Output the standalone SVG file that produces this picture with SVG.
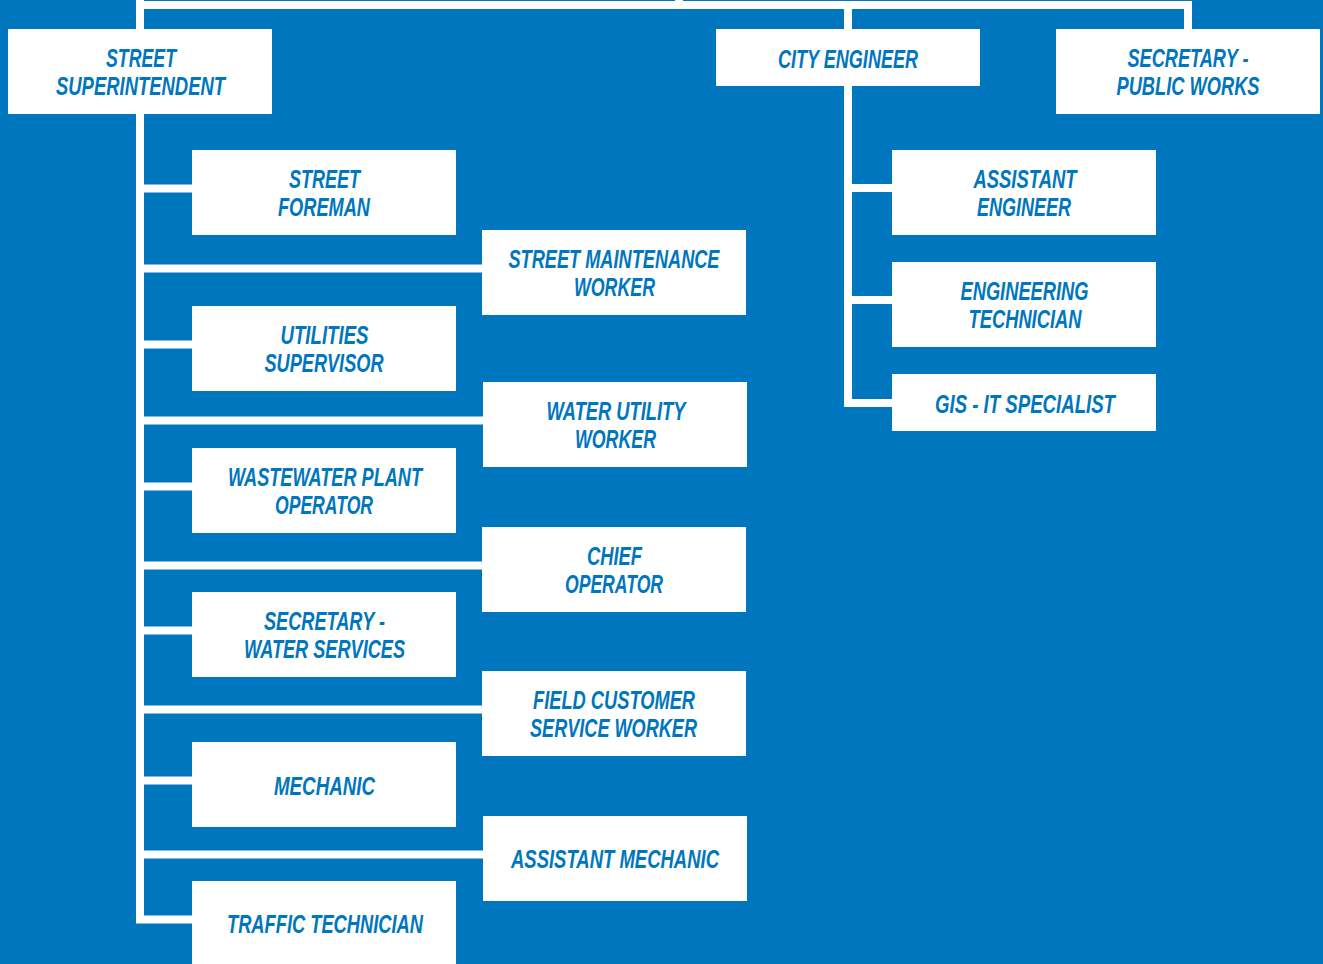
<svg xmlns="http://www.w3.org/2000/svg" width="1323" height="964" viewBox="0 0 1323 964">
<style>
.bg{fill:#0076BE}
.box{fill:#FFFFFF}
.t{font-family:"Liberation Sans Narrow","Liberation Sans",Arial,sans-serif;font-size:26px;font-weight:bold;font-style:italic;fill:#0076BE;text-anchor:middle}
.c{fill:none;stroke:#FFFFFF;stroke-width:8;stroke-linejoin:miter;stroke-linecap:butt}
</style>
<rect class="bg" x="0" y="0" width="1323" height="964"/>
<g id="connectors">
<path class="c" d="M679,-10 V5"/>
<path class="c" d="M140,5 H1188 V29"/>
<path class="c" d="M140,0 V919.5 H192"/>
<path class="c" d="M848,5 V403 H892"/>
<path class="c" d="M140,188.5 H192"/>
<path class="c" d="M140,268.5 H482"/>
<path class="c" d="M140,344.5 H192"/>
<path class="c" d="M140,420.5 H483"/>
<path class="c" d="M140,486.5 H192"/>
<path class="c" d="M140,565.5 H482"/>
<path class="c" d="M140,630.5 H192"/>
<path class="c" d="M140,709.5 H482"/>
<path class="c" d="M140,780.5 H192"/>
<path class="c" d="M140,854.5 H483"/>
<path class="c" d="M848,188 H892"/>
<path class="c" d="M848,300 H892"/>
</g>
<g id="street-superintendent">
<rect class="box" x="8" y="29" width="264" height="85"/>
<text class="t" x="141" y="67" textLength="70" lengthAdjust="spacingAndGlyphs">STREET</text>
<text class="t" x="140.5" y="94.5" textLength="169" lengthAdjust="spacingAndGlyphs">SUPERINTENDENT</text>
</g>
<g id="city-engineer">
<rect class="box" x="716" y="29" width="264" height="57"/>
<text class="t" x="848" y="67.5" textLength="140" lengthAdjust="spacingAndGlyphs">CITY ENGINEER</text>
</g>
<g id="secretary-public-works">
<rect class="box" x="1056" y="29" width="264" height="85"/>
<text class="t" x="1188" y="67" textLength="121" lengthAdjust="spacingAndGlyphs">SECRETARY -</text>
<text class="t" x="1188" y="94.5" textLength="143" lengthAdjust="spacingAndGlyphs">PUBLIC WORKS</text>
</g>
<g id="street-foreman">
<rect class="box" x="192" y="150" width="264" height="85"/>
<text class="t" x="324.5" y="188" textLength="71" lengthAdjust="spacingAndGlyphs">STREET</text>
<text class="t" x="324" y="215.5" textLength="92" lengthAdjust="spacingAndGlyphs">FOREMAN</text>
</g>
<g id="street-maintenance-worker">
<rect class="box" x="482" y="230" width="264" height="85"/>
<text class="t" x="614" y="268" textLength="211" lengthAdjust="spacingAndGlyphs">STREET MAINTENANCE</text>
<text class="t" x="614.5" y="295.5" textLength="81" lengthAdjust="spacingAndGlyphs">WORKER</text>
</g>
<g id="utilities-supervisor">
<rect class="box" x="192" y="306" width="264" height="85"/>
<text class="t" x="324.5" y="344" textLength="88" lengthAdjust="spacingAndGlyphs">UTILITIES</text>
<text class="t" x="324" y="371.5" textLength="119" lengthAdjust="spacingAndGlyphs">SUPERVISOR</text>
</g>
<g id="water-utility-worker">
<rect class="box" x="483" y="382" width="264" height="85"/>
<text class="t" x="616" y="420" textLength="139" lengthAdjust="spacingAndGlyphs">WATER UTILITY</text>
<text class="t" x="615.5" y="447.5" textLength="81" lengthAdjust="spacingAndGlyphs">WORKER</text>
</g>
<g id="wastewater-plant-operator">
<rect class="box" x="192" y="448" width="264" height="85"/>
<text class="t" x="325" y="486" textLength="194" lengthAdjust="spacingAndGlyphs">WASTEWATER PLANT</text>
<text class="t" x="324" y="513.5" textLength="98" lengthAdjust="spacingAndGlyphs">OPERATOR</text>
</g>
<g id="chief-operator">
<rect class="box" x="482" y="527" width="264" height="85"/>
<text class="t" x="614.5" y="565" textLength="55" lengthAdjust="spacingAndGlyphs">CHIEF</text>
<text class="t" x="614" y="592.5" textLength="98" lengthAdjust="spacingAndGlyphs">OPERATOR</text>
</g>
<g id="secretary-water-services">
<rect class="box" x="192" y="592" width="264" height="85"/>
<text class="t" x="324.5" y="630" textLength="121" lengthAdjust="spacingAndGlyphs">SECRETARY -</text>
<text class="t" x="324.5" y="657.5" textLength="161" lengthAdjust="spacingAndGlyphs">WATER SERVICES</text>
</g>
<g id="field-customer-service-worker">
<rect class="box" x="482" y="671" width="264" height="85"/>
<text class="t" x="614" y="709" textLength="162" lengthAdjust="spacingAndGlyphs">FIELD CUSTOMER</text>
<text class="t" x="613.5" y="736.5" textLength="167" lengthAdjust="spacingAndGlyphs">SERVICE WORKER</text>
</g>
<g id="mechanic">
<rect class="box" x="192" y="742" width="264" height="85"/>
<text class="t" x="324.5" y="795" textLength="101" lengthAdjust="spacingAndGlyphs">MECHANIC</text>
</g>
<g id="assistant-mechanic">
<rect class="box" x="483" y="816" width="264" height="85"/>
<text class="t" x="615" y="868" textLength="208" lengthAdjust="spacingAndGlyphs">ASSISTANT MECHANIC</text>
</g>
<g id="traffic-technician">
<rect class="box" x="192" y="881" width="264" height="90"/>
<text class="t" x="325" y="933" textLength="196" lengthAdjust="spacingAndGlyphs">TRAFFIC TECHNICIAN</text>
</g>
<g id="assistant-engineer">
<rect class="box" x="892" y="150" width="264" height="85"/>
<text class="t" x="1025" y="188" textLength="103" lengthAdjust="spacingAndGlyphs">ASSISTANT</text>
<text class="t" x="1024" y="215.5" textLength="94" lengthAdjust="spacingAndGlyphs">ENGINEER</text>
</g>
<g id="engineering-technician">
<rect class="box" x="892" y="262" width="264" height="85"/>
<text class="t" x="1024.5" y="300" textLength="128" lengthAdjust="spacingAndGlyphs">ENGINEERING</text>
<text class="t" x="1025" y="327.5" textLength="113" lengthAdjust="spacingAndGlyphs">TECHNICIAN</text>
</g>
<g id="gis-it-specialist">
<rect class="box" x="892" y="374" width="264" height="57"/>
<text class="t" x="1025" y="413" textLength="180" lengthAdjust="spacingAndGlyphs">GIS - IT SPECIALIST</text>
</g>
</svg>
